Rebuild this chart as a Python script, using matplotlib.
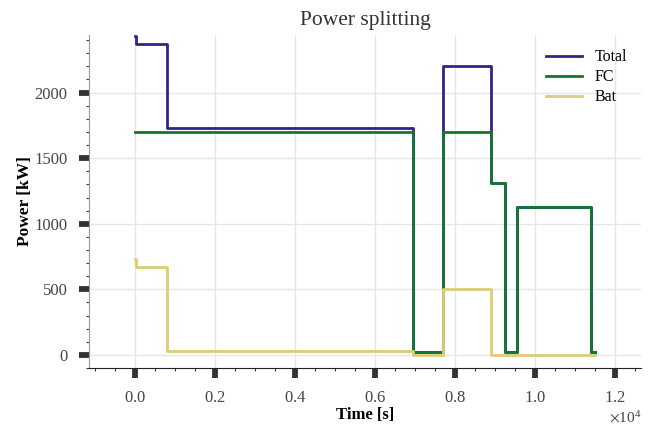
import matplotlib
matplotlib.use("Agg")
import matplotlib.pyplot as plt
from matplotlib.ticker import MultipleLocator, ScalarFormatter

# time breakpoints [s] and power levels [kW] (step, held until next breakpoint)
time = [0, 20, 800, 6950, 7700, 8900, 9250, 9550, 11400, 11500]
total = [2430, 2370, 1730, 25, 2200, 1310, 25, 1130, 25, 25]
fc = [1700, 1700, 1700, 25, 1700, 1310, 25, 1130, 25, 25]
bat = [730, 670, 30, 0, 500, 0, 0, 0, 0, 0]

plt.rcParams['font.family'] = ['Liberation Serif', 'DejaVu Serif']
plt.rcParams['mathtext.fontset'] = 'stix'

fig = plt.figure(figsize=(6.68, 4.25), dpi=100)
ax = fig.add_axes([0.133, 0.134, 0.827, 0.784])

ax.step(time, total, where='post', color='#332288', lw=2, label='Total')
ax.step(time, fc, where='post', color='#117733', lw=2, label='FC')
ax.step(time, bat, where='post', color='#DDCC77', lw=2, label='Bat')

ax.set_xlim(-1150, 12650)
ax.set_ylim(-100, 2440)
ax.xaxis.set_major_locator(MultipleLocator(2000))
ax.xaxis.set_minor_locator(MultipleLocator(500))
ax.yaxis.set_major_locator(MultipleLocator(500))
ax.yaxis.set_minor_locator(MultipleLocator(100))
fmt = ScalarFormatter(useMathText=True)
fmt.set_powerlimits((-3, 3))
ax.xaxis.set_major_formatter(fmt)
ax.xaxis.get_offset_text().set_fontsize(11)
ax.xaxis.get_offset_text().set_color('#444444')

for s in ['top', 'right']:
    ax.spines[s].set_visible(False)
ax.spines['left'].set_color('#999999')
ax.spines['bottom'].set_color('#222222')
ax.tick_params(which='major', length=7.5, width=4.2, color='#333333',
               labelsize=12, labelcolor='#444444', pad=8)
ax.tick_params(which='minor', length=2, width=0.8, color='#333333')
ax.grid(True, which='major', color='#e6e6e6', lw=1)
ax.set_axisbelow(True)

ax.set_title('Power splitting', fontsize=15.5, color='#333333', pad=7)
ax.set_xlabel('Time [s]', fontsize=12, fontweight='bold', labelpad=1)
ax.set_ylabel('Power [kW]', fontsize=12.5, fontweight='bold', labelpad=1)
ax.legend(loc='upper right', frameon=False, fontsize=11.5, handlelength=2.2,
          handletextpad=0.8, labelspacing=0.25, bbox_to_anchor=(1.0, 1.0))

fig.savefig('out.png', dpi=100)
